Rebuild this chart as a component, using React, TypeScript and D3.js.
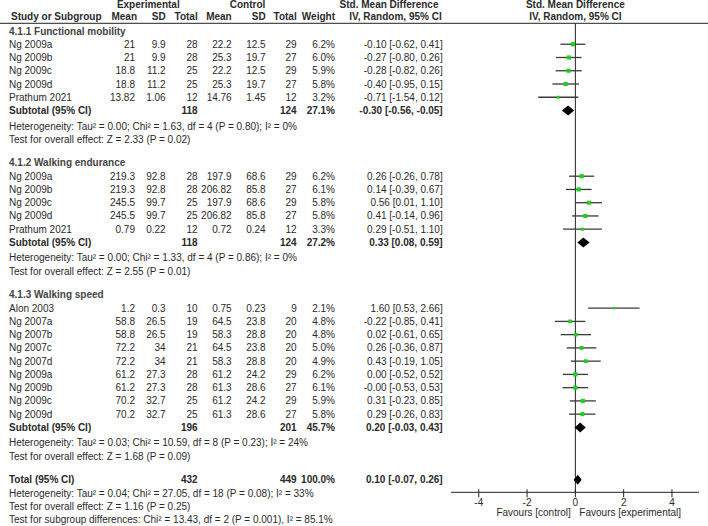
import React from "react";
import * as d3 from "d3";

type Study = { name: string; em: number; esd: number; en: number; cm: number; csd: number; cn: number; w: number; est: number; lo: number; hi: number };

const sectionTitles = ["4.1.1 Functional mobility", "4.1.2 Walking endurance", "4.1.3 Walking speed"];

const functionalMobility: Study[] = [
  { name: "Ng 2009a", em: 21, esd: 9.9, en: 28, cm: 22.2, csd: 12.5, cn: 29, w: 6.2, est: -0.10, lo: -0.62, hi: 0.41 },
  { name: "Ng 2009b", em: 21, esd: 9.9, en: 28, cm: 25.3, csd: 19.7, cn: 27, w: 6.0, est: -0.27, lo: -0.80, hi: 0.26 },
  { name: "Ng 2009c", em: 18.8, esd: 11.2, en: 25, cm: 22.2, csd: 12.5, cn: 29, w: 5.9, est: -0.28, lo: -0.82, hi: 0.26 },
  { name: "Ng 2009d", em: 18.8, esd: 11.2, en: 25, cm: 25.3, csd: 19.7, cn: 27, w: 5.8, est: -0.40, lo: -0.95, hi: 0.15 },
  { name: "Prathum 2021", em: 13.82, esd: 1.06, en: 12, cm: 14.76, csd: 1.45, cn: 12, w: 3.2, est: -0.71, lo: -1.54, hi: 0.12 },
];

const walkingEndurance: Study[] = [
  { name: "Ng 2009a", em: 219.3, esd: 92.8, en: 28, cm: 197.9, csd: 68.6, cn: 29, w: 6.2, est: 0.26, lo: -0.26, hi: 0.78 },
  { name: "Ng 2009b", em: 219.3, esd: 92.8, en: 28, cm: 206.82, csd: 85.8, cn: 27, w: 6.1, est: 0.14, lo: -0.39, hi: 0.67 },
  { name: "Ng 2009c", em: 245.5, esd: 99.7, en: 25, cm: 197.9, csd: 68.6, cn: 29, w: 5.8, est: 0.56, lo: 0.01, hi: 1.10 },
  { name: "Ng 2009d", em: 245.5, esd: 99.7, en: 25, cm: 206.82, csd: 85.8, cn: 27, w: 5.8, est: 0.41, lo: -0.14, hi: 0.96 },
  { name: "Prathum 2021", em: 0.79, esd: 0.22, en: 12, cm: 0.72, csd: 0.24, cn: 12, w: 3.3, est: 0.29, lo: -0.51, hi: 1.10 },
];

const walkingSpeed: Study[] = [
  { name: "Alon 2003", em: 1.2, esd: 0.3, en: 10, cm: 0.75, csd: 0.23, cn: 9, w: 2.1, est: 1.60, lo: 0.53, hi: 2.66 },
  { name: "Ng 2007a", em: 58.8, esd: 26.5, en: 19, cm: 64.5, csd: 23.8, cn: 20, w: 4.8, est: -0.22, lo: -0.85, hi: 0.41 },
  { name: "Ng 2007b", em: 58.8, esd: 26.5, en: 19, cm: 58.3, csd: 28.8, cn: 20, w: 4.8, est: 0.02, lo: -0.61, hi: 0.65 },
  { name: "Ng 2007c", em: 72.2, esd: 34, en: 21, cm: 64.5, csd: 23.8, cn: 20, w: 5.0, est: 0.26, lo: -0.36, hi: 0.87 },
  { name: "Ng 2007d", em: 72.2, esd: 34, en: 21, cm: 58.3, csd: 28.8, cn: 20, w: 4.9, est: 0.43, lo: -0.19, hi: 1.05 },
  { name: "Ng 2009a", em: 61.2, esd: 27.3, en: 28, cm: 61.2, csd: 24.2, cn: 29, w: 6.2, est: 0.00, lo: -0.52, hi: 0.52 },
  { name: "Ng 2009b", em: 61.2, esd: 27.3, en: 28, cm: 61.3, csd: 28.6, cn: 27, w: 6.1, est: -0.001, lo: -0.53, hi: 0.53 },
  { name: "Ng 2009c", em: 70.2, esd: 32.7, en: 25, cm: 61.2, csd: 24.2, cn: 29, w: 5.9, est: 0.31, lo: -0.23, hi: 0.85 },
  { name: "Ng 2009d", em: 70.2, esd: 32.7, en: 25, cm: 61.3, csd: 28.6, cn: 27, w: 5.8, est: 0.29, lo: -0.26, hi: 0.83 },
];

const sectionStudies = [functionalMobility, walkingEndurance, walkingSpeed];

const subtotalN = [[118, 124], [118, 124], [196, 201]];
const subtotalWeights = [27.1, 27.2, 45.7];
const subtotalEffects = [[-0.30, -0.56, -0.05], [0.33, 0.08, 0.59], [0.20, -0.03, 0.43]];
const heterogeneityTexts = [
  "Heterogeneity: Tau\u00B2 = 0.00; Chi\u00B2 = 1.63, df = 4 (P = 0.80); I\u00B2 = 0%",
  "Heterogeneity: Tau\u00B2 = 0.00; Chi\u00B2 = 1.33, df = 4 (P = 0.86); I\u00B2 = 0%",
  "Heterogeneity: Tau\u00B2 = 0.03; Chi\u00B2 = 10.59, df = 8 (P = 0.23); I\u00B2 = 24%",
];
const overallTests = [
  "Test for overall effect: Z = 2.33 (P = 0.02)",
  "Test for overall effect: Z = 2.55 (P = 0.01)",
  "Test for overall effect: Z = 1.68 (P = 0.09)",
];

const totalN = [432, 449];
const totalWeight = 100.0;
const totalEffect = [0.10, -0.07, 0.26];
const totalTexts = [
  "Heterogeneity: Tau\u00B2 = 0.04; Chi\u00B2 = 27.05, df = 18 (P = 0.08); I\u00B2 = 33%",
  "Test for overall effect: Z = 1.16 (P = 0.25)",
  "Test for subgroup differences: Chi\u00B2 = 13.43, df = 2 (P = 0.001), I\u00B2 = 85.1%",
];

const axisTicks = [-4, -2, 0, 2, 4];

const W = 708;
const H = 526;
const FONT = "'Liberation Sans', Arial, sans-serif";
const FS = 10;
const TXT = "#2a2a2a";

const col = { name: 9, em: 135, esd: 165.7, en: 197.7, cm: 231.7, csd: 265.7, cn: 296.7, w: 335, eff: 442.7 };

const x = d3.scaleLinear().domain([-5.15, 5.12]).range([451, 699]);

const fmtEff = (e: number[]) => `${e[0].toFixed(2)} [${e[1].toFixed(2)}, ${e[2].toFixed(2)}]`;
const fmtW = (w: number) => `${w.toFixed(1)}%`;

type Row =
  | { kind: "section"; y: number; text: string }
  | { kind: "study"; y: number; s: Study }
  | { kind: "sub"; y: number; label: string; n: number[]; w: number; eff: number[] }
  | { kind: "note"; y: number; text: string };

const PITCH = 13.25;
const HET_GAP = 15.5;
const SECTION_GAP = 23.7;

function buildRows(): Row[] {
  const rows: Row[] = [];
  let y = 31;
  sectionStudies.forEach((studies, i) => {
    if (i > 0) y += SECTION_GAP;
    rows.push({ kind: "section", y, text: sectionTitles[i] });
    studies.forEach((s) => {
      y += PITCH;
      rows.push({ kind: "study", y, s });
    });
    y += PITCH;
    rows.push({ kind: "sub", y, label: "Subtotal (95% CI)", n: subtotalN[i], w: subtotalWeights[i], eff: subtotalEffects[i] });
    y += HET_GAP;
    rows.push({ kind: "note", y, text: heterogeneityTexts[i] });
    y += PITCH;
    rows.push({ kind: "note", y, text: overallTests[i] });
  });
  y += SECTION_GAP;
  rows.push({ kind: "sub", y, label: "Total (95% CI)", n: totalN, w: totalWeight, eff: totalEffect });
  totalTexts.forEach((t) => {
    y += PITCH;
    rows.push({ kind: "note", y, text: t });
  });
  return rows;
}

const rows = buildRows();
const sq = d3.scaleSqrt().domain([0, 6.2]).range([0, 4.2]);

const AXIS_Y = 492.3;
const HEADER_LINE_Y = 23.3;

function T(props: any) {
  const { children, ...rest } = props;
  return (
    <text fontFamily={FONT} fontSize={FS} fill={TXT} dominantBaseline="central" {...rest}>
      {children}
    </text>
  );
}

export default function App() {
  const x0 = x(0);
  return (
    <svg width={W} height={H} style={{ position: "absolute", left: 0, top: 0, background: "#fff" }}>
      <rect x={0} y={0} width={W} height={H} fill="#fff" />
      {/* header */}
      <T x={148.3} y={4.5} textAnchor="middle" fontWeight="bold">Experimental</T>
      <T x={247.5} y={4.5} textAnchor="middle" fontWeight="bold">Control</T>
      <T x={438.5} y={4.5} textAnchor="end" fontWeight="bold">Std. Mean Difference</T>
      <T x={x0} y={4.5} textAnchor="middle" fontWeight="bold">Std. Mean Difference</T>
      <T x={col.name + 2} y={16.7} fontWeight="bold">Study or Subgroup</T>
      <T x={col.em + 2} y={16.7} textAnchor="end" fontWeight="bold">Mean</T>
      <T x={col.esd} y={16.7} textAnchor="end" fontWeight="bold">SD</T>
      <T x={col.en} y={16.7} textAnchor="end" fontWeight="bold">Total</T>
      <T x={col.cm} y={16.7} textAnchor="end" fontWeight="bold">Mean</T>
      <T x={col.csd} y={16.7} textAnchor="end" fontWeight="bold">SD</T>
      <T x={col.cn} y={16.7} textAnchor="end" fontWeight="bold">Total</T>
      <T x={col.w} y={16.7} textAnchor="end" fontWeight="bold">Weight</T>
      <T x={441.7} y={16.7} textAnchor="end" fontWeight="bold">IV, Random, 95% CI</T>
      <T x={x0} y={16.7} textAnchor="middle" fontWeight="bold">IV, Random, 95% CI</T>
      <line x1={0} x2={W} y1={HEADER_LINE_Y} y2={HEADER_LINE_Y} stroke="#222" strokeWidth={1} />

      {/* zero line */}
      <line x1={x0} x2={x0} y1={HEADER_LINE_Y} y2={AXIS_Y} stroke="#222" strokeWidth={1} />

      {rows.map((r, i) => {
        if (r.kind === "section")
          return <T key={i} x={col.name} y={r.y} fontWeight="bold" fill="#444">{r.text}</T>;
        if (r.kind === "note")
          return <T key={i} x={col.name} y={r.y}>{r.text}</T>;
        if (r.kind === "study") {
          const s = r.s;
          const side = sq(s.w);
          return (
            <g key={i}>
              <T x={col.name} y={r.y}>{s.name}</T>
              <T x={col.em} y={r.y} textAnchor="end">{String(s.em)}</T>
              <T x={col.esd} y={r.y} textAnchor="end">{String(s.esd)}</T>
              <T x={col.en} y={r.y} textAnchor="end">{String(s.en)}</T>
              <T x={col.cm} y={r.y} textAnchor="end">{String(s.cm)}</T>
              <T x={col.csd} y={r.y} textAnchor="end">{String(s.csd)}</T>
              <T x={col.cn} y={r.y} textAnchor="end">{String(s.cn)}</T>
              <T x={col.w} y={r.y} textAnchor="end">{fmtW(s.w)}</T>
              <T x={col.eff} y={r.y} textAnchor="end">{fmtEff([s.est, s.lo, s.hi])}</T>
              <line x1={x(s.lo)} x2={x(s.hi)} y1={r.y} y2={r.y} stroke="#3a3a3a" strokeWidth={1.3} />
              <rect x={x(s.est) - side / 2} y={r.y - side / 2} width={side} height={side} fill="#19d219" />
            </g>
          );
        }
        const e = r.eff;
        const pts: [number, number][] = [
          [x(e[1]), r.y],
          [x(e[0]), r.y - 5],
          [x(e[2]), r.y],
          [x(e[0]), r.y + 5],
        ];
        return (
          <g key={i}>
            <T x={col.name} y={r.y} fontWeight="bold">{r.label}</T>
            <T x={col.en} y={r.y} textAnchor="end" fontWeight="bold">{String(r.n[0])}</T>
            <T x={col.cn} y={r.y} textAnchor="end" fontWeight="bold">{String(r.n[1])}</T>
            <T x={col.w} y={r.y} textAnchor="end" fontWeight="bold">{fmtW(r.w)}</T>
            <T x={col.eff} y={r.y} textAnchor="end" fontWeight="bold">{fmtEff(e)}</T>
            <path d={d3.line()(pts) + "Z"} fill="#000" />
          </g>
        );
      })}

      {/* axis */}
      <line x1={x.range()[0]} x2={x.range()[1]} y1={AXIS_Y} y2={AXIS_Y} stroke="#222" strokeWidth={1} />
      {axisTicks.map((t) => (
        <g key={t}>
          <line x1={x(t)} x2={x(t)} y1={AXIS_Y - 3} y2={AXIS_Y + 5} stroke="#222" strokeWidth={1} />
          <T x={x(t)} y={502} textAnchor="middle">{String(t)}</T>
        </g>
      ))}
      <T x={x0 - 4.5} y={512.5} textAnchor="end">Favours [control]</T>
      <T x={x0 + 4} y={512.5}>Favours [experimental]</T>
    </svg>
  );
}
